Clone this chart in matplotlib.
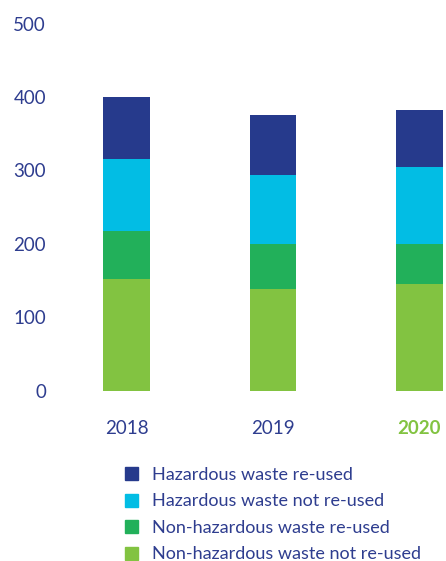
import matplotlib
matplotlib.use("Agg")
import matplotlib.pyplot as plt
from matplotlib.patches import Patch

# Waste volumes per year, stacked bottom to top
years = ["2018", "2019", "2020"]
non_haz_not_reused = [152, 139, 146]
non_haz_reused = [65, 61, 54]
haz_not_reused = [99, 94, 105]
haz_reused = [84, 82, 77]

series = [
    ("Non-hazardous waste not re-used", non_haz_not_reused, "#82c341"),
    ("Non-hazardous waste re-used", non_haz_reused, "#22b05a"),
    ("Hazardous waste not re-used", haz_not_reused, "#02bde4"),
    ("Hazardous waste re-used", haz_reused, "#263a8c"),
]
y_ticks = [0, 100, 200, 300, 400, 500]

TEXT = "#2e3d8f"
HIGHLIGHT = "#82c341"
plt.rcParams["font.family"] = ["Lato", "DejaVu Sans"]

W, H = 446, 561
fig = plt.figure(figsize=(W / 100, H / 100), dpi=100)

# axes placed in pixel terms
left_px, right_px = 60, 446
top_px, bottom_px = 10, 410
ax = fig.add_axes([left_px / W, (H - bottom_px) / H,
                   (right_px - left_px) / W, (bottom_px - top_px) / H])

x = list(range(len(years)))
bottom = [0] * len(years)
for name, vals, col in series:
    ax.bar(x, vals, width=0.32, bottom=bottom, color=col, label=name)
    bottom = [b + v for b, v in zip(bottom, vals)]

ax.set_xlim(-0.454, 2.181)
ax.set_ylim(-25.9, 518.4)
ax.set_yticks(y_ticks)
ax.set_yticklabels([str(t) for t in y_ticks])
ax.set_xticks(x)
ax.set_xticklabels(years)
for s in ax.spines.values():
    s.set_visible(False)
ax.tick_params(axis="both", length=0, colors=TEXT, labelsize=13.5)
ax.tick_params(axis="y", pad=10)
ax.tick_params(axis="x", pad=7)
for lbl in ax.get_xticklabels():
    if lbl.get_text() == "2020":
        lbl.set_color(HIGHLIGHT)
        lbl.set_fontweight("bold")

handles = [Patch(color=c, label=n) for n, _, c in series][::-1]
leg = fig.legend(handles=handles, loc="upper left",
                 bbox_to_anchor=(125 / W, (H - 467) / H),
                 frameon=False, fontsize=13, borderpad=0, borderaxespad=0,
                 handlelength=0.72, handleheight=0.72, handletextpad=0.78,
                 labelspacing=0.58)
for t in leg.get_texts():
    t.set_color(TEXT)

fig.savefig("out.png", dpi=100)
